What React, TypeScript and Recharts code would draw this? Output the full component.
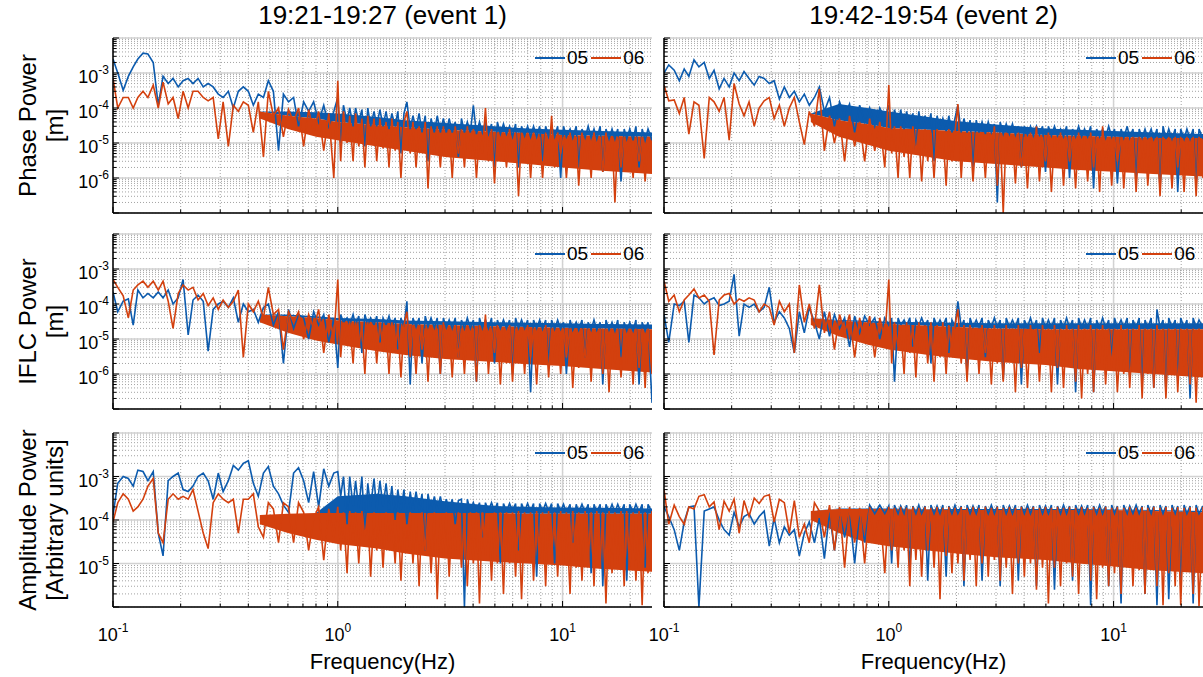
import React from "react"
import { ComposedChart, Line, Area, XAxis, YAxis, CartesianGrid, Legend } from "recharts"

// frequency grid (Hz), shared by every spectrum
const FREQS = [
    0.100, 0.105, 0.111, 0.117, 0.123, 0.129, 0.136, 0.143, 0.151, 0.159,
    0.167, 0.176, 0.185, 0.195, 0.205, 0.216, 0.227, 0.239, 0.252, 0.265,
    0.279, 0.294, 0.309, 0.326, 0.343, 0.361, 0.380, 0.400, 0.421, 0.443,
    0.467, 0.491, 0.517, 0.545, 0.573, 0.604, 0.636, 0.669, 0.705, 0.742,
    0.781, 0.822, 0.866, 0.912, 0.960, 1.00, 1.03, 1.06, 1.10, 1.13,
    1.17, 1.20, 1.24, 1.28, 1.32, 1.36, 1.40, 1.45, 1.49, 1.54,
    1.59, 1.64, 1.69, 1.74, 1.80, 1.85, 1.91, 1.97, 2.03, 2.10,
    2.16, 2.23, 2.30, 2.37, 2.45, 2.52, 2.60, 2.69, 2.77, 2.86,
    2.95, 3.04, 3.13, 3.23, 3.33, 3.44, 3.55, 3.66, 3.77, 3.89,
    4.01, 4.14, 4.27, 4.40, 4.54, 4.68, 4.83, 4.98, 5.13, 5.29,
    5.46, 5.63, 5.81, 5.99, 6.18, 6.37, 6.57, 6.78, 6.99, 7.21,
    7.43, 7.67, 7.91, 8.15, 8.41, 8.67, 8.94, 9.22, 9.51, 9.81,
    10.1, 10.4, 10.8, 11.1, 11.5, 11.8, 12.2, 12.6, 13.0, 13.4,
    13.8, 14.2, 14.7, 15.1, 15.6, 16.1, 16.6, 17.1, 17.6, 18.2,
    18.8, 19.3, 19.9, 20.6, 21.2, 21.9, 22.6, 23.3, 24.0, 25.0,
]

// Phase power, event 1
const PHASE1_05 = [
    2.5e-3, 1e-3, 3.2e-4, 8e-4, 1.5e-3, 2.5e-3, 3.7e-3, 3.5e-3, 2e-3, 1.2e-4,
    8e-4, 5e-4, 7e-4, 4e-4, 6e-4, 7e-4, 5e-4, 7e-4, 4e-4, 5e-4,
    4e-4, 2.5e-4, 2e-4, 3e-4, 1e-4, 3e-4, 4e-4, 3e-4, 1.2e-4, 2.5e-4,
    2e-4, 6e-4, 3e-4, 6e-6, 2.5e-4, 1.5e-4, 2e-4, 3e-5, 1.5e-4, 8e-5,
    1.5e-4, 4e-5, 1.2e-4, 3e-5, 8e-5, 2e-4, 1e-5, 1.2e-4, 4e-5, 1e-4,
    3e-5, 1e-4, 4e-5, 9e-5, 8e-6, 1e-4, 3e-5, 8e-5, 3e-5, 9e-5,
    3e-5, 8e-5, 2.5e-5, 7e-5, 3e-5, 8e-5, 5e-6, 7e-5, 1.5e-4, 2.5e-5,
    6e-5, 2.5e-5, 7e-5, 2e-5, 6e-5, 3e-6, 5e-5, 2e-5, 6e-5, 2e-5,
    5e-5, 2e-5, 5e-5, 2e-5, 4e-5, 4e-6, 5e-5, 2e-5, 4e-5, 2e-5,
    1.2e-4, 1.8e-5, 4e-5, 2e-5, 4e-5, 1.8e-5, 3.5e-5, 2e-6, 4e-5, 1.8e-5,
    3.5e-5, 1.8e-5, 3e-5, 1.5e-5, 3.5e-5, 2e-6, 3e-5, 1.6e-5, 3e-5, 1.5e-5,
    3e-5, 1.5e-5, 3e-5, 3e-6, 3e-5, 1.5e-5, 3e-5, 1.5e-5, 3e-5, 1e-6,
    3e-5, 1.5e-5, 2.5e-5, 1.4e-5, 3e-5, 2e-6, 2.5e-5, 1.4e-5, 3e-5, 1.4e-5,
    2.5e-5, 1.3e-5, 3e-5, 1.5e-6, 2.5e-5, 1.3e-5, 2.5e-5, 1.3e-5, 2.5e-5, 8e-7,
    2.5e-5, 1.3e-5, 2.5e-5, 1.2e-5, 3e-5, 2e-6, 2.5e-5, 1.2e-5, 2.5e-5, 1.2e-5,
]
const PHASE1_06 = [
    7e-4, 1e-4, 2e-4, 2e-4, 1e-4, 2e-4, 3e-4, 2e-4, 4.5e-4, 1e-4,
    5.5e-4, 1.3e-4, 2e-4, 5e-5, 3e-4, 1e-4, 3e-4, 3e-4, 2e-4, 1.6e-4,
    2e-4, 1.3e-5, 1.5e-4, 8e-6, 1.2e-4, 8e-5, 1.5e-4, 1.2e-4, 2e-5, 1.5e-4,
    4e-6, 3e-4, 6e-5, 1e-4, 1.5e-5, 9e-5, 4e-5, 1e-4, 8e-6, 9e-5,
    2e-5, 8e-5, 6e-6, 7e-5, 1e-6, 6e-4, 3e-6, 8e-5, 1e-5, 6e-5,
    3e-6, 7e-5, 8e-6, 5e-5, 2e-6, 6e-5, 1e-5, 5e-5, 3e-6, 5e-5,
    7e-6, 4e-5, 2e-6, 5e-5, 6e-6, 4e-5, 1e-6, 4e-5, 8e-5, 5e-6,
    4e-5, 2e-6, 3e-5, 6e-6, 4e-5, 5e-7, 3e-5, 5e-6, 3e-5, 2e-6,
    3e-5, 4e-6, 2.5e-5, 1e-6, 3e-5, 5e-6, 2.5e-5, 2e-6, 3e-5, 4e-6,
    2.5e-5, 1e-6, 2e-5, 5e-6, 1e-4, 3e-6, 2.5e-5, 7e-7, 2e-5, 4e-6,
    2e-5, 2e-6, 2.5e-5, 5e-6, 2e-5, 3e-7, 2e-5, 3e-6, 2e-5, 1e-6,
    2e-5, 4e-6, 1.5e-5, 1e-6, 2e-5, 3e-6, 6e-5, 2e-6, 2e-5, 5e-6,
    1.5e-5, 1e-6, 2e-5, 4e-6, 1.5e-5, 6e-7, 2e-5, 3e-6, 1.5e-5, 1e-6,
    2e-5, 4e-6, 1.5e-5, 1.5e-6, 2e-5, 3e-6, 1.5e-5, 2e-7, 1.5e-5, 2e-6,
    1.5e-5, 5e-6, 1.5e-5, 1e-6, 1.5e-5, 3e-6, 1.5e-5, 8e-7, 1.5e-5, 2e-6,
]

// Phase power, event 2
const PHASE2_05 = [
    1e-3, 1.7e-3, 1.2e-3, 6e-4, 1.3e-3, 8e-4, 2.4e-3, 1.5e-3, 2e-3, 7e-4,
    1.2e-3, 3.5e-4, 7e-4, 4e-4, 1e-3, 6e-4, 1.1e-3, 7e-4, 4.5e-4, 8e-4,
    7e-4, 5e-4, 6e-4, 1.8e-4, 4e-4, 2e-4, 3e-4, 1.5e-4, 2.5e-4, 1.2e-4,
    2e-4, 4e-4, 8e-5, 2e-4, 3e-5, 1.5e-4, 6e-5, 1.3e-4, 2e-5, 1.2e-4,
    4e-5, 1e-4, 3e-5, 1e-4, 5e-5, 1.2e-4, 2.5e-5, 9e-5, 3e-5, 9e-5,
    2.5e-5, 8e-5, 3e-5, 7e-5, 6e-6, 8e-5, 2.5e-5, 6e-5, 2.5e-5, 7e-5,
    3e-6, 6e-5, 2.5e-5, 5e-5, 2.2e-5, 6e-5, 2e-5, 5e-5, 1.2e-4, 2e-5,
    5e-5, 2e-5, 4.5e-5, 2e-6, 4.5e-5, 2e-5, 4e-5, 1.8e-5, 4e-5, 2e-5,
    3.5e-5, 2e-7, 4e-5, 1.8e-5, 3.5e-5, 1.8e-5, 3.5e-5, 1.7e-5, 3e-5, 2e-6,
    3e-5, 1.7e-5, 3e-5, 1.6e-5, 3e-5, 1.7e-5, 3e-5, 1.5e-6, 3e-5, 1.6e-5,
    3e-5, 1.6e-5, 2.5e-5, 1.5e-5, 3e-5, 1e-6, 2.5e-5, 1.5e-5, 3e-5, 1.5e-5,
    2.5e-5, 1.5e-5, 3e-5, 5e-7, 2.5e-5, 1.5e-5, 2.5e-5, 1.4e-5, 3e-5, 1.5e-5,
    2.5e-5, 7e-7, 2.5e-5, 1.4e-5, 3e-5, 1.4e-5, 2.5e-5, 1e-6, 2.5e-5, 1.4e-5,
    2.5e-5, 1.4e-5, 2.5e-5, 1.3e-5, 2.5e-5, 5e-7, 3e-5, 1.3e-5, 2.5e-5, 1.3e-5,
    2.5e-5, 4e-7, 2.5e-5, 1.3e-5, 2.5e-5, 1.3e-5, 2.5e-5, 6e-7, 2.5e-5, 1.3e-5,
]
const PHASE2_06 = [
    4.5e-4, 1.6e-4, 1.7e-4, 7e-5, 2e-4, 1.8e-5, 1.5e-4, 1.2e-4, 3.6e-6, 2e-4,
    1.5e-4, 8e-5, 2e-4, 1.2e-5, 5e-4, 1.3e-4, 6e-5, 1.5e-4, 3e-5, 1e-4,
    1.6e-4, 2e-4, 5e-5, 1.2e-4, 3e-5, 1e-4, 2e-4, 4e-5, 9e-6, 8e-5,
    3e-5, 3.5e-4, 6e-6, 6e-5, 1e-5, 5e-5, 3e-6, 6e-5, 8e-6, 4e-5,
    3e-6, 5e-5, 6e-6, 4e-5, 2e-6, 4.5e-4, 5e-6, 3e-5, 1e-6, 3e-5,
    4e-6, 2.5e-5, 1e-6, 3e-5, 5e-6, 2.5e-5, 8e-7, 2.5e-5, 3e-6, 2e-5,
    1e-6, 2.5e-5, 4e-6, 2e-5, 6e-7, 2.5e-5, 3e-6, 2e-5, 1.3e-4, 1e-6,
    2e-5, 4e-6, 2e-5, 8e-7, 2e-5, 3e-6, 2e-5, 1e-6, 2e-5, 3e-6,
    3e-5, 6e-7, 2e-5, 1e-7, 2e-5, 3e-6, 1.5e-5, 7e-7, 2e-5, 2e-6,
    1.5e-5, 5e-7, 2e-5, 3e-6, 3e-5, 8e-7, 1.5e-5, 3e-6, 2e-5, 4e-7,
    1.5e-5, 2e-6, 2e-5, 6e-7, 1.5e-5, 3e-6, 1.5e-5, 5e-7, 2e-5, 2e-6,
    1.5e-5, 8e-7, 2e-5, 2e-6, 1.5e-5, 4e-7, 3e-5, 2e-6, 1.5e-5, 6e-7,
    1.5e-5, 3e-6, 1.5e-5, 5e-7, 1.5e-5, 2e-6, 1.5e-5, 4e-7, 1.5e-5, 1.5e-6,
    1.5e-5, 6e-7, 1.5e-5, 2e-6, 1.5e-5, 3e-7, 1.5e-5, 1.5e-6, 1.5e-5, 5e-7,
    1.5e-5, 2e-6, 1.5e-5, 4e-7, 1.5e-5, 1.5e-6, 1.5e-5, 3e-7, 1.5e-5, 1e-6,
]

// IFLC power, event 1
const IFLC1_05 = [
    2.2e-4, 6e-5, 1.2e-4, 1.4e-4, 2.5e-5, 2.5e-4, 1.5e-4, 2e-4, 1.5e-4, 2.2e-4,
    1.5e-4, 2.5e-4, 1e-4, 1.5e-4, 5e-4, 1.3e-5, 1.3e-4, 1.8e-4, 1.2e-4, 4.5e-6,
    7e-5, 1e-4, 1.2e-4, 8e-5, 1.5e-4, 3e-5, 1e-4, 6e-5, 7e-5, 3e-5,
    8e-5, 1e-4, 2.5e-5, 6e-5, 2e-6, 7e-5, 2e-5, 5e-5, 4e-5, 1e-5,
    6e-5, 2.5e-5, 5e-5, 8e-6, 4e-5, 1.5e-6, 5e-5, 3e-5, 4e-5, 2.5e-5,
    5e-5, 2.5e-5, 4.5e-5, 4e-6, 5e-5, 2.5e-5, 4e-5, 2.5e-5, 4.5e-5, 8e-6,
    4e-5, 2.5e-5, 4.5e-5, 2.2e-5, 4e-5, 5e-6, 4e-5, 2.2e-5, 1.2e-4, 5e-7,
    4e-5, 2.2e-5, 4e-5, 2e-6, 4.5e-5, 2.2e-5, 4e-5, 2.1e-5, 4e-5, 1e-6,
    4e-5, 2.1e-5, 3.5e-5, 2e-5, 4e-5, 3e-6, 3.5e-5, 2e-5, 4e-5, 2e-5,
    3.5e-5, 6e-7, 4e-5, 2e-5, 3.5e-5, 2e-5, 4e-5, 2e-6, 3.5e-5, 2e-5,
    3.5e-5, 2e-5, 3.5e-5, 1e-6, 4e-5, 2e-5, 3.5e-5, 2e-5, 3.5e-5, 3e-7,
    3.5e-5, 2e-5, 3.5e-5, 1.9e-5, 3.5e-5, 2e-6, 3.5e-5, 1.9e-5, 3.5e-5, 1.9e-5,
    3e-5, 1e-6, 3.5e-5, 1.8e-5, 3e-5, 1.8e-5, 3.5e-5, 3e-6, 3e-5, 1.8e-5,
    3.5e-5, 1.8e-5, 3e-5, 5e-7, 3.5e-5, 1.8e-5, 3e-5, 1.7e-5, 3.5e-5, 3e-6,
    3e-5, 1.7e-5, 3e-5, 1.7e-5, 3.5e-5, 5e-7, 3e-5, 1.7e-5, 3e-5, 1.5e-7,
]
const IFLC1_06 = [
    5e-4, 3e-4, 1.7e-4, 4e-5, 2.5e-4, 3.5e-4, 4.5e-4, 3e-4, 4.5e-4, 2.5e-4,
    4.5e-4, 1.2e-4, 2e-5, 2e-4, 3.5e-4, 2.5e-4, 3e-4, 1.3e-4, 2e-4, 9e-5,
    1.5e-4, 7e-5, 1.3e-4, 8e-5, 1.2e-4, 2.5e-4, 3e-6, 1e-4, 6e-5, 1.2e-4,
    4e-5, 3e-4, 5e-5, 7e-5, 5e-6, 6e-5, 3e-5, 6e-5, 1e-5, 5e-5,
    2e-5, 7e-5, 4e-6, 5e-5, 1e-5, 5e-4, 3e-6, 3e-5, 7e-6, 3e-5,
    2e-6, 3e-5, 6e-6, 2.5e-5, 1e-6, 3e-5, 5e-6, 2.5e-5, 2e-6, 3e-5,
    5e-6, 2.5e-5, 1e-6, 3e-5, 4e-6, 2.5e-5, 8e-7, 2.5e-5, 6e-5, 3e-6,
    2.5e-5, 1e-6, 2.5e-5, 5e-6, 2e-5, 6e-7, 2.5e-5, 3e-6, 2e-5, 1e-6,
    3e-5, 4e-6, 2e-5, 8e-7, 2.5e-5, 3e-6, 2e-5, 1e-6, 2.5e-5, 5e-6,
    2e-5, 6e-7, 2.5e-5, 3e-6, 5e-5, 1e-6, 2e-5, 4e-6, 2.5e-5, 5e-7,
    2e-5, 2e-6, 2.5e-5, 6e-7, 2e-5, 3e-6, 2e-5, 1e-6, 2.5e-5, 3e-6,
    2e-5, 5e-7, 2e-5, 2e-6, 2.5e-5, 8e-7, 2e-5, 3e-6, 2e-5, 1e-6,
    2e-5, 3e-6, 2e-5, 4e-7, 2e-5, 1.5e-6, 2e-5, 3e-6, 2e-5, 6e-7,
    2e-5, 2e-6, 2e-5, 1e-6, 2e-5, 3e-7, 2e-5, 2e-6, 2e-5, 8e-7,
    2e-5, 2e-6, 2e-5, 5e-7, 2e-5, 1.5e-6, 2e-5, 4e-7, 2e-5, 1e-6,
]

// IFLC power, event 2
const IFLC2_05 = [
    5e-5, 8e-6, 1e-4, 9e-5, 1.2e-4, 8e-6, 1.8e-4, 1.5e-4, 1e-4, 1.3e-4,
    1.5e-4, 9e-5, 1e-4, 1.2e-4, 7e-4, 1.2e-5, 1e-4, 8e-5, 1e-4, 6e-5,
    8e-5, 3e-4, 3e-5, 6e-5, 4e-5, 2e-5, 4e-6, 6e-5, 1.5e-5, 8e-5,
    3e-5, 1e-5, 6e-5, 1.2e-5, 5e-5, 2e-5, 4e-5, 6e-6, 4.5e-5, 1.5e-5,
    4.5e-5, 2.5e-5, 4e-5, 1e-5, 4e-5, 2.5e-5, 4e-5, 6e-7, 4e-5, 2.5e-5,
    3.5e-5, 2.4e-5, 4e-5, 6e-6, 3.5e-5, 2.4e-5, 4e-5, 2.3e-5, 3.5e-5, 2e-6,
    4e-5, 2.3e-5, 3.5e-5, 2.3e-5, 4e-5, 4e-6, 3.5e-5, 2.3e-5, 1.2e-4, 2.2e-5,
    3.5e-5, 1e-6, 4e-5, 2.2e-5, 3.5e-5, 2.2e-5, 4e-5, 3e-6, 3.5e-5, 2.2e-5,
    4e-5, 2.2e-5, 3.5e-5, 7e-7, 4e-5, 2.2e-5, 3.5e-5, 2.2e-5, 4e-5, 5e-7,
    3.5e-5, 2.2e-5, 4e-5, 2.1e-5, 3.5e-5, 4e-6, 4e-5, 2.1e-5, 3.5e-5, 2.1e-5,
    4e-5, 5e-7, 3.5e-5, 2.1e-5, 4e-5, 2.1e-5, 3.5e-5, 3e-7, 4e-5, 2.1e-5,
    3.5e-5, 2.1e-5, 4e-5, 3e-7, 3.5e-5, 2.1e-5, 4e-5, 2.1e-5, 3.5e-5, 3e-6,
    4e-5, 2.1e-5, 3.5e-5, 2.1e-5, 4e-5, 8e-7, 3.5e-5, 2.1e-5, 4e-5, 5e-7,
    3.5e-5, 2.1e-5, 4e-5, 4e-7, 7e-5, 2.1e-5, 3.5e-5, 3e-7, 4e-5, 2.1e-5,
    3.5e-5, 6e-7, 4e-5, 2.1e-5, 3.5e-5, 2e-7, 4e-5, 2.1e-5, 3.5e-5, 2.1e-5,
]
const IFLC2_06 = [
    4.5e-4, 1.2e-4, 1.8e-4, 6e-5, 1.3e-4, 1.8e-4, 2.7e-4, 1.5e-4, 1.8e-4, 1.2e-4,
    3.5e-6, 1.3e-4, 1.8e-4, 2e-4, 1e-4, 1.4e-4, 1.2e-4, 1.5e-4, 1.3e-4, 6e-5,
    1e-4, 8e-5, 2.5e-5, 1.2e-4, 6e-5, 1e-4, 4e-6, 3.5e-4, 3e-5, 1e-4,
    2e-5, 3.5e-4, 1.5e-5, 6e-5, 5e-6, 5e-5, 1.5e-5, 5e-5, 3e-6, 4e-5,
    8e-6, 4.5e-5, 3e-6, 4e-5, 1e-5, 5e-4, 2e-6, 3e-5, 6e-6, 2.5e-5,
    1e-6, 3e-5, 4e-6, 2.5e-5, 8e-7, 3e-5, 5e-6, 2.5e-5, 2e-6, 3e-5,
    6e-7, 2.5e-5, 3e-6, 3e-5, 1e-6, 2.5e-5, 5e-6, 2.5e-5, 7e-5, 2e-6,
    2.5e-5, 6e-7, 2.5e-5, 3e-6, 2e-5, 1e-6, 2.5e-5, 4e-6, 2e-5, 5e-7,
    2.5e-5, 2e-6, 2e-5, 6e-7, 2.5e-5, 3e-6, 2e-5, 3e-7, 2.5e-5, 1.5e-6,
    2e-5, 4e-7, 2.5e-5, 2e-6, 2e-5, 6e-7, 2.5e-5, 3e-6, 2e-5, 3e-7,
    2.5e-5, 1.5e-6, 2e-5, 4e-7, 2.5e-5, 2e-6, 2e-5, 6e-7, 2.5e-5, 2e-7,
    2e-5, 1e-6, 2.5e-5, 3e-7, 2e-5, 2e-6, 2.5e-5, 5e-7, 2e-5, 1.5e-6,
    2e-5, 3e-7, 2.5e-5, 1e-6, 2e-5, 4e-7, 2e-5, 2e-6, 2.5e-5, 2e-7,
    2e-5, 1e-6, 2e-5, 4e-7, 2.5e-5, 1.5e-6, 2e-5, 2e-7, 2e-5, 1e-6,
    2e-5, 3e-7, 2e-5, 1.5e-6, 2e-5, 5e-7, 2e-5, 1.5e-7, 2e-5, 1e-6,
]

// Amplitude power, event 1
const AMP1_05 = [
    1.3e-4, 7e-4, 1e-3, 9e-4, 6e-4, 1.4e-3, 1.3e-3, 8e-4, 1.3e-3, 5e-5,
    1.5e-5, 8e-4, 1e-3, 1.2e-3, 5e-4, 4.5e-4, 6e-4, 1e-3, 1.2e-3, 8e-4,
    3e-4, 1.2e-3, 4.5e-4, 8e-4, 1.8e-3, 1.4e-3, 2e-3, 2.3e-3, 7e-4, 3.5e-4,
    1.2e-3, 1.7e-3, 6e-4, 4e-4, 2.2e-4, 1.5e-4, 1.2e-3, 1.6e-3, 8e-4, 2.5e-4,
    1.3e-3, 2e-4, 1.5e-3, 6e-4, 1.2e-3, 1.3e-3, 3.5e-4, 1e-3, 8e-5, 1e-3,
    2e-4, 8e-4, 1.8e-4, 1e-3, 5e-5, 7e-4, 2e-4, 9e-4, 1.6e-4, 8e-4,
    2e-4, 7e-4, 1.6e-4, 6e-4, 1e-4, 5e-4, 1.6e-4, 5e-4, 8e-5, 4.5e-4,
    1.6e-4, 4.5e-4, 1.6e-4, 4e-4, 2e-5, 4e-4, 1.6e-4, 3.5e-4, 1.6e-4, 3.5e-4,
    1.6e-4, 3e-4, 1.6e-4, 3e-4, 8e-5, 2.8e-4, 3e-4, 1e-6, 3e-4, 1.6e-4,
    2.5e-4, 1.6e-4, 2.5e-4, 4e-5, 2.5e-4, 1.6e-4, 2.5e-4, 1.6e-4, 2.5e-4, 1e-5,
    2.4e-4, 1.6e-4, 2.4e-4, 1.6e-4, 2.4e-4, 2e-5, 2.4e-4, 1.6e-4, 2.4e-4, 1.6e-4,
    2.4e-4, 5e-6, 2.4e-4, 1.6e-4, 2.4e-4, 1.6e-4, 2.4e-4, 1e-5, 2.4e-4, 1.6e-4,
    2.3e-4, 1.5e-4, 2.3e-4, 3e-5, 2.3e-4, 1.5e-4, 2.3e-4, 1.5e-4, 2.3e-4, 6e-6,
    2.3e-4, 1.5e-4, 2.3e-4, 3e-6, 2.3e-4, 1.5e-4, 2.3e-4, 1.5e-4, 2.3e-4, 1.5e-4,
    2.3e-4, 4e-6, 2.3e-4, 1.5e-4, 2.3e-4, 1.5e-4, 2.3e-4, 8e-6, 2.3e-4, 1.5e-4,
]
const AMP1_06 = [
    9e-5, 2.5e-4, 4e-4, 3e-4, 1.6e-4, 2e-4, 3e-4, 6e-4, 9e-4, 5e-5,
    3e-5, 3e-4, 4e-4, 3e-4, 3.5e-4, 3e-4, 5e-4, 1.6e-4, 5e-5, 2.2e-5,
    2.5e-4, 4e-4, 3e-4, 2.5e-4, 3e-4, 5e-5, 3e-4, 3e-4, 4e-4, 7e-5,
    4e-5, 2.5e-4, 1.8e-4, 3e-5, 2.5e-4, 2e-4, 3e-5, 2.5e-4, 1.5e-4, 2e-5,
    1.1e-4, 2e-4, 1.2e-5, 1.8e-4, 4e-5, 2e-4, 2e-5, 1.5e-4, 6e-6, 1.6e-4,
    3e-5, 1.5e-4, 1e-5, 1.6e-4, 4e-5, 1.4e-4, 5e-6, 1.5e-4, 2e-5, 1.4e-4,
    8e-6, 1.5e-4, 3e-5, 1.4e-4, 1e-5, 1.5e-4, 4e-6, 1.4e-4, 2e-5, 1.5e-4,
    1e-5, 1.4e-4, 3e-6, 1.5e-4, 2e-5, 1.4e-4, 6e-6, 1.5e-4, 1.5e-6, 1.4e-4,
    1.5e-5, 1.5e-4, 5e-6, 1.4e-4, 2e-5, 1.5e-4, 8e-6, 1.4e-4, 3e-6, 1.5e-4,
    1e-5, 1.5e-4, 1.2e-6, 1.5e-4, 1.5e-5, 1.4e-4, 4e-6, 1.5e-4, 1e-5, 1.5e-4,
    2e-6, 1.5e-4, 1e-5, 1.5e-4, 5e-6, 1.6e-4, 1.5e-6, 1.5e-4, 1.2e-5, 1.5e-4,
    4e-6, 1.6e-4, 1e-5, 1.5e-4, 3e-6, 1.6e-4, 1.5e-5, 1.5e-4, 5e-6, 1.6e-4,
    1e-5, 1.5e-4, 2e-6, 1.6e-4, 8e-6, 1.5e-4, 4e-6, 1.6e-4, 1.2e-5, 1.5e-4,
    3e-6, 1.6e-4, 1e-5, 1.5e-4, 1.2e-6, 1.6e-4, 6e-6, 1.5e-4, 1e-5, 1.6e-4,
    3e-6, 1.6e-4, 8e-6, 1.5e-4, 4e-6, 1.6e-4, 1.1e-6, 1.5e-4, 6e-6, 1.6e-4,
]

// Amplitude power, event 2
const AMP2_05 = [
    2e-4, 1.2e-4, 6e-5, 2e-5, 9e-5, 2e-4, 2.1e-4, 1e-6, 1.6e-4, 1.8e-4,
    2e-4, 1e-4, 6e-5, 4.5e-5, 1.5e-4, 7e-5, 1.2e-4, 1.4e-4, 8e-5, 1.2e-4,
    1.6e-4, 2.5e-5, 1.1e-4, 3e-5, 7e-5, 4.5e-5, 6e-5, 1.5e-5, 5e-5, 9e-5,
    3e-5, 1.1e-4, 1.3e-5, 1.5e-4, 2e-5, 1.5e-4, 4e-5, 1.5e-4, 1e-5, 1.5e-4,
    3e-5, 2.2e-4, 1.4e-4, 2.2e-4, 1.4e-4, 2.1e-4, 1e-5, 2.2e-4, 1.4e-4, 2.1e-4,
    1.4e-4, 2.2e-4, 8e-6, 2.1e-4, 1.4e-4, 2.2e-4, 1.4e-4, 2.1e-4, 4e-6, 2.2e-4,
    1.4e-4, 2.1e-4, 1.4e-4, 2.2e-4, 5e-6, 2.1e-4, 1.4e-4, 2.2e-4, 1.4e-4, 2.1e-4,
    3e-6, 2.2e-4, 1.4e-4, 2.1e-4, 1.4e-4, 2.2e-4, 4e-6, 2.1e-4, 1.4e-4, 2.2e-4,
    1.4e-4, 2.1e-4, 3e-6, 2.2e-4, 1.4e-4, 2.1e-4, 1.4e-4, 2.2e-4, 4e-6, 2.1e-4,
    1.4e-4, 2.2e-4, 1.4e-4, 2.1e-4, 3e-6, 2.2e-4, 1.4e-4, 2.1e-4, 1.4e-4, 2.2e-4,
    2.5e-6, 2.1e-4, 1.4e-4, 2.2e-4, 1.4e-4, 2.1e-4, 4e-6, 2.2e-4, 1.4e-4, 2.1e-4,
    1.4e-4, 2.2e-4, 1.1e-6, 2.1e-4, 1.4e-4, 2.2e-4, 1.4e-4, 2.1e-4, 3e-6, 2.2e-4,
    1.4e-4, 2.1e-4, 1.2e-6, 2.2e-4, 1.4e-4, 2.1e-4, 1.4e-4, 2.2e-4, 1.4e-4, 2.1e-4,
    2e-6, 2.2e-4, 1.4e-4, 2.1e-4, 1.1e-6, 2.2e-4, 1.4e-4, 2.1e-4, 1.5e-6, 2.2e-4,
    1.4e-4, 2.1e-4, 3e-6, 2.2e-4, 1.4e-4, 2.1e-4, 1.2e-6, 2.2e-4, 1.4e-4, 2.1e-4,
]
const AMP2_06 = [
    5e-4, 8e-5, 2.2e-4, 1.2e-4, 8e-5, 2e-4, 1.8e-4, 3.5e-4, 3.8e-4, 2e-4,
    2.6e-4, 6e-5, 2.7e-4, 1.6e-4, 3e-4, 5e-5, 2.8e-4, 1.2e-4, 3.2e-4, 2.4e-4,
    3.5e-4, 3.8e-4, 9e-5, 3e-4, 2.5e-4, 5e-5, 2.8e-4, 4e-5, 8e-5, 3e-5,
    2.5e-4, 1.6e-4, 4e-5, 2.2e-4, 2e-5, 2e-4, 8e-6, 2e-4, 3e-5, 1.9e-4,
    1e-5, 2e-4, 3e-5, 1.9e-4, 6e-6, 2e-4, 2e-5, 1.9e-4, 8e-6, 2e-4,
    2e-5, 1.9e-4, 3e-6, 2e-4, 1.2e-5, 1.9e-4, 5e-6, 2e-4, 2e-5, 1.9e-4,
    8e-6, 2e-4, 1.5e-6, 1.9e-4, 1.5e-5, 2e-4, 6e-6, 1.9e-4, 1e-5, 2e-4,
    4e-6, 1.9e-4, 1.2e-5, 2e-4, 3e-6, 1.9e-4, 1e-5, 2e-4, 5e-6, 1.9e-4,
    1.2e-5, 2e-4, 4e-6, 1.9e-4, 8e-6, 2e-4, 2e-6, 1.9e-4, 1e-5, 2e-4,
    5e-6, 1.9e-4, 1e-5, 2e-4, 2.5e-6, 1.9e-4, 8e-6, 2e-4, 1.2e-6, 1.9e-4,
    8e-6, 2e-4, 3e-6, 1.9e-4, 1e-5, 2e-4, 5e-6, 1.9e-4, 2e-6, 2e-4,
    1e-5, 1.9e-4, 4e-6, 2e-4, 1.5e-6, 1.9e-4, 8e-6, 2e-4, 3e-6, 1.9e-4,
    6e-6, 2e-4, 2e-6, 1.9e-4, 1e-5, 2e-4, 3e-6, 1.9e-4, 7e-6, 2e-4,
    2e-6, 1.9e-4, 8e-6, 2e-4, 3e-6, 1.9e-4, 1.1e-6, 2e-4, 6e-6, 1.9e-4,
    3e-6, 2e-4, 1.1e-6, 1.9e-4, 7e-6, 2e-4, 2e-6, 1.9e-4, 1.05e-6, 2e-4,
]

// dense part of each spectrum read as a band: frequencies, red core low/high, blue top
const BAND_FREQS = [0.45, 0.6, 0.8, 1, 1.5, 2, 3, 5, 7, 10, 15, 25]

const PHASE1_RED_LO = [5e-5, 2.5e-5, 1.5e-5, 1.2e-5, 8e-6, 6e-6, 4e-6, 3e-6, 2.5e-6, 2e-6, 1.6e-6, 1.3e-6]
const PHASE1_RED_HI = [8e-5, 6e-5, 5e-5, 4e-5, 3.2e-5, 2.8e-5, 2.4e-5, 2.1e-5, 1.9e-5, 1.7e-5, 1.6e-5, 1.5e-5]
const PHASE1_BLUE_HI = [8e-5, 8e-5, 7.5e-5, 7e-5, 5.5e-5, 4.5e-5, 3.7e-5, 3e-5, 2.6e-5, 2.4e-5, 2.2e-5, 2e-5]

const PHASE2_RED_LO = [4e-5, 1.5e-5, 9e-6, 6e-6, 4e-6, 3e-6, 2.5e-6, 2e-6, 1.7e-6, 1.5e-6, 1.3e-6, 1.1e-6]
const PHASE2_RED_HI = [7e-5, 4.5e-5, 3.5e-5, 2.7e-5, 2.4e-5, 2.2e-5, 2e-5, 1.7e-5, 1.6e-5, 1.5e-5, 1.4e-5, 1.4e-5]
const PHASE2_BLUE_HI = [7e-5, 1.3e-4, 1e-4, 8e-5, 5.5e-5, 4.2e-5, 3.4e-5, 2.6e-5, 2.4e-5, 2.2e-5, 2e-5, 1.8e-5]

const IFLC1_RED_LO = [3e-5, 1.5e-5, 9e-6, 7e-6, 4.5e-6, 3.5e-6, 2.7e-6, 2.2e-6, 1.9e-6, 1.7e-6, 1.4e-6, 1.1e-6]
const IFLC1_RED_HI = [5e-5, 4.5e-5, 4e-5, 3.4e-5, 3e-5, 2.7e-5, 2.5e-5, 2.3e-5, 2.2e-5, 2.1e-5, 2e-5, 1.9e-5]
const IFLC1_BLUE_HI = [5e-5, 5e-5, 4.5e-5, 4e-5, 3.7e-5, 3.4e-5, 3.2e-5, 3e-5, 2.9e-5, 2.8e-5, 2.7e-5, 2.6e-5]

const IFLC2_RED_LO = [2.5e-5, 1.2e-5, 7e-6, 5e-6, 3.5e-6, 2.8e-6, 2.2e-6, 1.8e-6, 1.4e-6, 1.2e-6, 1e-6, 8e-7]
const IFLC2_RED_HI = [4e-5, 3.3e-5, 3e-5, 2.7e-5, 2.4e-5, 2.2e-5, 2e-5, 1.9e-5, 1.9e-5, 1.9e-5, 1.9e-5, 1.9e-5]
const IFLC2_BLUE_HI = [4e-5, 3.5e-5, 3.3e-5, 3.1e-5, 3e-5, 2.9e-5, 2.8e-5, 2.8e-5, 2.8e-5, 2.8e-5, 2.8e-5, 2.8e-5]

const AMP1_RED_LO = [8e-5, 5e-5, 3.5e-5, 2.8e-5, 2.2e-5, 1.7e-5, 1.3e-5, 1.1e-5, 1e-5, 9e-6, 7.5e-6, 6.5e-6]
const AMP1_RED_HI = [1.3e-4, 1.4e-4, 1.45e-4, 1.45e-4, 1.45e-4, 1.45e-4, 1.45e-4, 1.45e-4, 1.4e-4, 1.4e-4, 1.4e-4, 1.4e-4]
const AMP1_BLUE_HI = [1.3e-4, 1.4e-4, 1.45e-4, 3.5e-4, 4e-4, 3.5e-4, 2.7e-4, 2.1e-4, 2e-4, 1.95e-4, 1.9e-4, 1.85e-4]

const AMP2_RED_LO = [1e-4, 5e-5, 3e-5, 2.5e-5, 2e-5, 1.7e-5, 1.4e-5, 1.2e-5, 1e-5, 8.5e-6, 7e-6, 6e-6]
const AMP2_RED_HI = [1.6e-4, 1.8e-4, 1.8e-4, 1.8e-4, 1.75e-4, 1.7e-4, 1.7e-4, 1.7e-4, 1.7e-4, 1.7e-4, 1.6e-4, 1.5e-4]
const AMP2_BLUE_HI = [1.6e-4, 1.85e-4, 1.85e-4, 1.85e-4, 1.8e-4, 1.8e-4, 1.8e-4, 1.8e-4, 1.8e-4, 1.75e-4, 1.7e-4, 1.6e-4]

const TITLES = ["19:21-19:27 (event 1)", "19:42-19:54 (event 2)"]
const ROW_LABELS = [
    ["Phase Power", "[m]"],
    ["IFLC Power", "[m]"],
    ["Amplitude Power", "[Arbitrary units]"],
]
const SERIES_NAMES = ["05", "06"]
const PANELS = [
    [
        [PHASE1_05, PHASE1_06, PHASE1_RED_LO, PHASE1_RED_HI, PHASE1_BLUE_HI],
        [PHASE2_05, PHASE2_06, PHASE2_RED_LO, PHASE2_RED_HI, PHASE2_BLUE_HI],
    ],
    [
        [IFLC1_05, IFLC1_06, IFLC1_RED_LO, IFLC1_RED_HI, IFLC1_BLUE_HI],
        [IFLC2_05, IFLC2_06, IFLC2_RED_LO, IFLC2_RED_HI, IFLC2_BLUE_HI],
    ],
    [
        [AMP1_05, AMP1_06, AMP1_RED_LO, AMP1_RED_HI, AMP1_BLUE_HI],
        [AMP2_05, AMP2_06, AMP2_RED_LO, AMP2_RED_HI, AMP2_BLUE_HI],
    ],
]

const X_TICKS = [0.1, 0.2, 0.3, 0.4, 0.5, 0.6, 0.7, 0.8, 0.9, 1, 2, 3, 4, 5, 6, 7, 8, 9, 10, 20]
const X_DECADES = [0.1, 1, 10]

const BLUE = "#0c5bae"
const RED = "#d3400e"
const FONT = "'Liberation Sans', Arial, Helvetica, sans-serif"

const COL_LEFT = [113, 664]
const ROW_TOP = [38, 234, 433]
const ROW_H = [175, 175, 174]
const ROW_EXP = [[-7, -2], [-7, -2], [-6, -2]]
const PLOT_W = 539
const M_LEFT = 60
const M_TOP = 10
const M_RIGHT = 10
const M_BOTTOM = 40

function decadeTicks(lo: number, hi: number) {
    const out: number[] = []
    for (let e = lo; e < hi; e++) {
        for (let m = 1; m < 10; m++) out.push(Number((m * Math.pow(10, e)).toPrecision(3)))
    }
    out.push(Math.pow(10, hi))
    return out
}

function isDecade(v: number) {
    const l = Math.log10(v)
    return Math.abs(l - Math.round(l)) < 1e-6
}

function Pow10({ x, y, v, anchor }: any) {
    const e = Math.round(Math.log10(v))
    return (
        <text x={x} y={y} textAnchor={anchor} fontSize={18} fill="#000" fontFamily={FONT}>
            10<tspan dy={-9} fontSize={12}>{e}</tspan>
        </text>
    )
}

function YTick({ x, y, payload, side, labels, lo, hi }: any) {
    const v = payload.value
    const major = isDecade(v)
    const len = major ? 6 : 3.5
    const dir = side === "left" ? 1 : -1
    const e = Math.round(Math.log10(v))
    return (
        <g>
            <line x1={x} x2={x + dir * len} y1={y} y2={y} stroke="#000" strokeWidth={1} />
            {labels && major && e > lo && e < hi && <Pow10 x={x - 4} y={y + 10} v={v} anchor="end" />}
        </g>
    )
}

function XTick({ x, y, payload, side, labels }: any) {
    const v = payload.value
    const major = isDecade(v)
    const len = major ? 6 : 3.5
    const dir = side === "bottom" ? -1 : 1
    return (
        <g>
            <line x1={x} x2={x} y1={y} y2={y + dir * len} stroke="#000" strokeWidth={1} />
            {labels && major && <Pow10 x={x} y={y + 34} v={v} anchor="middle" />}
        </g>
    )
}

function LegendContent({ payload }: any) {
    const items = (payload || []).filter((e: any) => e.type !== "none")
    return (
        <div style={{ display: "flex", alignItems: "center", fontSize: 19, lineHeight: "22px", color: "#000", fontFamily: FONT }}>
            {items.map((entry: any, index: number) => (
                <div key={`item-${index}`} style={{ display: "flex", alignItems: "center", marginLeft: index ? 3 : 0 }}>
                    <span style={{ display: "inline-block", width: 30, height: 2, background: entry.color, marginRight: 2 }} />
                    <span>{entry.value}</span>
                </div>
            ))}
        </div>
    )
}

function Panel({ row, col }: { row: number; col: number }) {
    const [s05, s06, redLo, redHi, blueHi] = PANELS[row][col]
    const data = FREQS.map((f, i) => ({ f, s05: s05[i], s06: s06[i] }))
    const band = BAND_FREQS.map((f, i) => ({ f, blue: [redHi[i], blueHi[i]], red: [redLo[i], redHi[i]] }))
    const [lo, hi] = ROW_EXP[row]
    const yTicks = decadeTicks(lo, hi)
    const yDecades = yTicks.filter(isDecade)
    const width = M_LEFT + PLOT_W + M_RIGHT
    const height = M_TOP + ROW_H[row] + M_BOTTOM
    const yLabels = col === 0
    const xLabels = row === 2
    const axisLine = { stroke: "#000", strokeWidth: 1.5 }
    const yDomain = [Math.pow(10, lo), Math.pow(10, hi)]

    return (
        <div style={{ position: "absolute", left: COL_LEFT[col] - M_LEFT, top: ROW_TOP[row] - M_TOP }}>
            <ComposedChart width={width} height={height} data={data}
                margin={{ top: M_TOP, right: M_RIGHT, bottom: 0, left: 5 }}>
                <CartesianGrid horizontalValues={yTicks} verticalValues={X_TICKS}
                    stroke="#8c8c8c" strokeWidth={0.8} strokeDasharray="1 2" />
                <CartesianGrid horizontalValues={yDecades} verticalValues={X_DECADES}
                    stroke="#d2d2d2" strokeWidth={1.5} />
                <XAxis dataKey="f" type="number" scale="log" domain={[0.1, 25]} allowDataOverflow
                    ticks={X_TICKS} interval={0} height={M_BOTTOM} tickSize={0} tickMargin={0}
                    tickLine={false} axisLine={axisLine}
                    tick={(p: any) => <XTick {...p} side="bottom" labels={xLabels} />} />
                <XAxis xAxisId="top" orientation="top" dataKey="f" type="number" scale="log"
                    domain={[0.1, 25]} allowDataOverflow ticks={X_TICKS} interval={0} height={0}
                    tickSize={0} tickMargin={0} tickLine={false} axisLine={axisLine}
                    tick={(p: any) => <XTick {...p} side="top" labels={false} />} />
                <YAxis type="number" scale="log" domain={yDomain} allowDataOverflow ticks={yTicks}
                    interval={0} width={55} tickSize={0} tickMargin={0} tickLine={false} axisLine={axisLine}
                    tick={(p: any) => <YTick {...p} side="left" labels={yLabels} lo={lo} hi={hi} />} />
                <YAxis yAxisId="right" orientation="right" type="number" scale="log" domain={yDomain}
                    allowDataOverflow ticks={yTicks} interval={0} width={0} tickSize={0} tickMargin={0}
                    tickLine={false} axisLine={axisLine}
                    tick={(p: any) => <YTick {...p} side="right" labels={false} lo={lo} hi={hi} />} />
                <Area data={band} type="linear" dataKey="blue" fill={BLUE} fillOpacity={1} stroke="none"
                    legendType="none" dot={false} activeDot={false} isAnimationActive={false} />
                <Area data={band} type="linear" dataKey="red" fill={RED} fillOpacity={1} stroke="none"
                    legendType="none" dot={false} activeDot={false} isAnimationActive={false} />
                <Line type="linear" dataKey="s05" name={SERIES_NAMES[0]} stroke={BLUE} strokeWidth={1.6}
                    dot={false} activeDot={false} isAnimationActive={false} />
                <Line type="linear" dataKey="s06" name={SERIES_NAMES[1]} stroke={RED} strokeWidth={1.6}
                    dot={false} activeDot={false} isAnimationActive={false} />
                <Legend layout="horizontal" verticalAlign="middle" align="center"
                    wrapperStyle={{ top: 19, left: 482, width: 130, height: 22 }}
                    content={LegendContent} />
            </ComposedChart>
        </div>
    )
}

export default function App() {
    return (
        <div style={{ position: "absolute", left: 0, top: 0, width: 1203, height: 677, overflow: "hidden", background: "#fff", fontFamily: FONT }}>
            <svg width={1203} height={677} style={{ position: "absolute", left: 0, top: 0 }}>
                {TITLES.map((t, i) => (
                    <text key={t} x={COL_LEFT[i] + PLOT_W / 2} y={24} textAnchor="middle" fontSize={26} fontFamily={FONT} fill="#000">{t}</text>
                ))}
                {ROW_LABELS.map((lab, r) => {
                    const cy = ROW_TOP[r] + ROW_H[r] / 2
                    return (
                        <g key={lab[0]}>
                            <text transform={`translate(36, ${cy}) rotate(-90)`} textAnchor="middle" fontSize={24} fontFamily={FONT} fill="#000">{lab[0]}</text>
                            <text transform={`translate(63, ${cy}) rotate(-90)`} textAnchor="middle" fontSize={24} fontFamily={FONT} fill="#000">{lab[1]}</text>
                        </g>
                    )
                })}
                {COL_LEFT.map((x) => (
                    <text key={x} x={x + PLOT_W / 2} y={669} textAnchor="middle" fontSize={22} fontFamily={FONT} fill="#000">Frequency(Hz)</text>
                ))}
            </svg>
            {[0, 1, 2].map((r) => [0, 1].map((c) => <Panel key={`${r}-${c}`} row={r} col={c} />))}
        </div>
    )
}
